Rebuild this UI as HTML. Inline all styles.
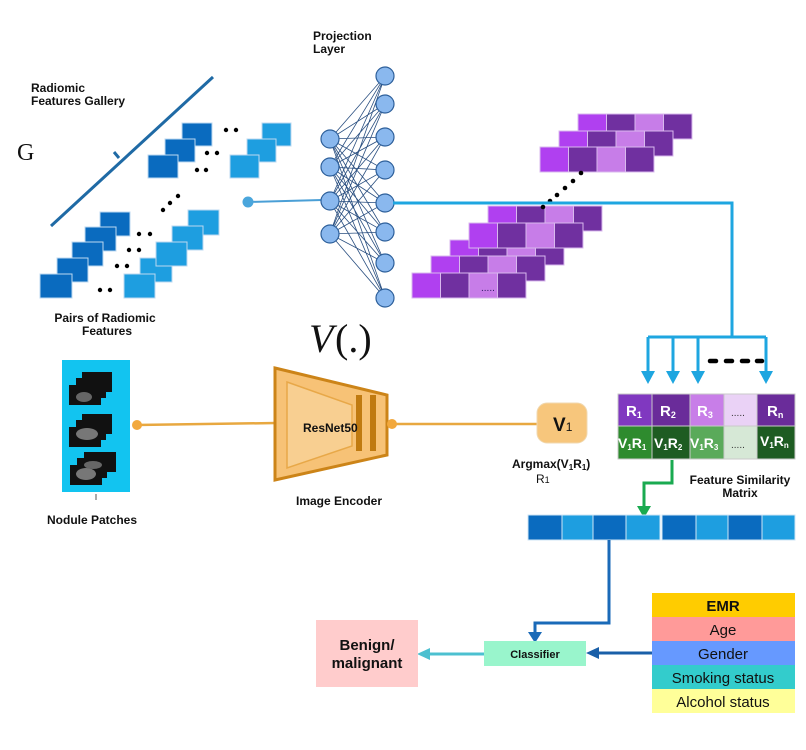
<!DOCTYPE html>
<html><head><meta charset="utf-8"><style>
html,body{margin:0;padding:0;background:#fff}
svg{display:block}
text{font-family:"Liberation Sans",Arial,sans-serif}
</style></head><body>
<svg width="806" height="750" viewBox="0 0 806 750" xmlns="http://www.w3.org/2000/svg">
<defs>
<marker id="ab" markerWidth="10" markerHeight="10" refX="5" refY="8" orient="auto" markerUnits="userSpaceOnUse"></marker>
</defs>
<rect width="806" height="750" fill="#fff"/>

<!-- Gallery -->
<text x="31" y="92" font-size="12" font-weight="bold" fill="#111">Radiomic</text>
<text x="31" y="105" font-size="12" font-weight="bold" fill="#111">Features Gallery</text>
<text x="17" y="160" font-size="24" font-family="Liberation Serif,serif" fill="#111" style="font-family:'Liberation Serif',serif">G</text>
<line x1="213" y1="77" x2="51" y2="226" stroke="#1f6aa5" stroke-width="3"/>
<line x1="114" y1="152" x2="119" y2="158" stroke="#1f6aa5" stroke-width="3"/>

<g stroke="#bcd8f0" stroke-width="1">
<rect x="182" y="123" width="30" height="23" fill="#0a6bbf"/>
<rect x="165" y="139" width="30" height="23" fill="#0a6bbf"/>
<rect x="148" y="155" width="30" height="23" fill="#0a6bbf"/>
<rect x="262" y="123" width="29" height="23" fill="#1e9ee0"/>
<rect x="247" y="139" width="29" height="23" fill="#1e9ee0"/>
<rect x="230" y="155" width="29" height="23" fill="#1e9ee0"/>
<rect x="100" y="212" width="30" height="24" fill="#0a6bbf"/>
<rect x="85" y="227" width="31" height="24" fill="#0a6bbf"/>
<rect x="72" y="242" width="31" height="24" fill="#0a6bbf"/>
<rect x="57" y="258" width="31" height="24" fill="#0a6bbf"/>
<rect x="40" y="274" width="32" height="24" fill="#0a6bbf"/>
<rect x="188" y="210" width="31" height="25" fill="#1e9ee0"/>
<rect x="172" y="226" width="31" height="24" fill="#1e9ee0"/>
<rect x="140" y="258" width="32" height="24" fill="#1e9ee0"/>
<rect x="156" y="242" width="31" height="24" fill="#1e9ee0"/>
<rect x="124" y="274" width="31" height="24" fill="#1e9ee0"/>
</g>
<g fill="#000">
<circle cx="226" cy="130" r="2.2"/><circle cx="236" cy="130" r="2.2"/>
<circle cx="207" cy="153" r="2.2"/><circle cx="217" cy="153" r="2.2"/>
<circle cx="197" cy="170" r="2.2"/><circle cx="206" cy="170" r="2.2"/>
<circle cx="163" cy="210" r="2.2"/><circle cx="170" cy="203" r="2.2"/><circle cx="178" cy="196" r="2.2"/>
<circle cx="139" cy="234" r="2.2"/><circle cx="150" cy="234" r="2.2"/>
<circle cx="129" cy="250" r="2.2"/><circle cx="139" cy="250" r="2.2"/>
<circle cx="117" cy="266" r="2.2"/><circle cx="127" cy="266" r="2.2"/>
<circle cx="100" cy="290" r="2.2"/><circle cx="110" cy="290" r="2.2"/>
</g>
<text x="105" y="322" font-size="12" font-weight="bold" text-anchor="middle" fill="#111">Pairs of Radiomic</text>
<text x="107" y="335" font-size="12" font-weight="bold" text-anchor="middle" fill="#111">Features</text>

<!-- Network -->
<text x="313" y="40" font-size="12" font-weight="bold" fill="#111">Projection</text>
<text x="313" y="53" font-size="12" font-weight="bold" fill="#111">Layer</text>
<g stroke="#2a4f80" stroke-width="0.8">
<path d="M330 139L385 76M330 139L385 104M330 139L385 137M330 139L385 170M330 139L385 203M330 139L385 232M330 139L385 263M330 139L385 298
M330 167L385 76M330 167L385 104M330 167L385 137M330 167L385 170M330 167L385 203M330 167L385 232M330 167L385 263M330 167L385 298
M330 201L385 76M330 201L385 104M330 201L385 137M330 201L385 170M330 201L385 203M330 201L385 232M330 201L385 263M330 201L385 298
M330 234L385 76M330 234L385 104M330 234L385 137M330 234L385 170M330 234L385 203M330 234L385 232M330 234L385 263M330 234L385 298"/>
</g>
<line x1="248" y1="202" x2="322" y2="200" stroke="#4a9fd6" stroke-width="2"/>
<circle cx="248" cy="202" r="5.5" fill="#4aa6dc"/>
<g fill="#8ab8ee" stroke="#2d5f9a" stroke-width="1.2">
<circle cx="330" cy="139" r="9"/><circle cx="330" cy="167" r="9"/><circle cx="330" cy="201" r="9"/><circle cx="330" cy="234" r="9"/>
<circle cx="385" cy="76" r="9"/><circle cx="385" cy="104" r="9"/><circle cx="385" cy="137" r="9"/><circle cx="385" cy="170" r="9"/><circle cx="385" cy="203" r="9"/><circle cx="385" cy="232" r="9"/><circle cx="385" cy="263" r="9"/><circle cx="385" cy="298" r="9"/>
</g>

<!-- Purple stacks -->
<g stroke="#d9b8ee" stroke-width="1">
<g id="r1"><rect x="578" y="114" width="28.5" height="25" fill="#b040f0"/><rect x="606.5" y="114" width="28.5" height="25" fill="#7030a0"/><rect x="635" y="114" width="28.5" height="25" fill="#c77de8"/><rect x="663.5" y="114" width="28.5" height="25" fill="#7030a0"/></g>
<g transform="translate(-19,17)"><rect x="578" y="114" width="28.5" height="25" fill="#b040f0"/><rect x="606.5" y="114" width="28.5" height="25" fill="#7030a0"/><rect x="635" y="114" width="28.5" height="25" fill="#c77de8"/><rect x="663.5" y="114" width="28.5" height="25" fill="#7030a0"/></g>
<g transform="translate(-38,33)"><rect x="578" y="114" width="28.5" height="25" fill="#b040f0"/><rect x="606.5" y="114" width="28.5" height="25" fill="#7030a0"/><rect x="635" y="114" width="28.5" height="25" fill="#c77de8"/><rect x="663.5" y="114" width="28.5" height="25" fill="#7030a0"/></g>
<g transform="translate(-90,92)"><rect x="578" y="114" width="28.5" height="25" fill="#b040f0"/><rect x="606.5" y="114" width="28.5" height="25" fill="#7030a0"/><rect x="635" y="114" width="28.5" height="25" fill="#c77de8"/><rect x="663.5" y="114" width="28.5" height="25" fill="#7030a0"/></g>
<g transform="translate(-128,126)"><rect x="578" y="114" width="28.5" height="25" fill="#b040f0"/><rect x="606.5" y="114" width="28.5" height="25" fill="#7030a0"/><rect x="635" y="114" width="28.5" height="25" fill="#c77de8"/><rect x="663.5" y="114" width="28.5" height="25" fill="#7030a0"/></g>
<g transform="translate(-109,109)"><rect x="578" y="114" width="28.5" height="25" fill="#b040f0"/><rect x="606.5" y="114" width="28.5" height="25" fill="#7030a0"/><rect x="635" y="114" width="28.5" height="25" fill="#c77de8"/><rect x="663.5" y="114" width="28.5" height="25" fill="#7030a0"/></g>
<g transform="translate(-147,142)"><rect x="578" y="114" width="28.5" height="25" fill="#b040f0"/><rect x="606.5" y="114" width="28.5" height="25" fill="#7030a0"/><rect x="635" y="114" width="28.5" height="25" fill="#c77de8"/><rect x="663.5" y="114" width="28.5" height="25" fill="#7030a0"/></g>
<g transform="translate(-166,159)"><rect x="578" y="114" width="28.5" height="25" fill="#b040f0"/><rect x="606.5" y="114" width="28.5" height="25" fill="#7030a0"/><rect x="635" y="114" width="28.5" height="25" fill="#c77de8"/><rect x="663.5" y="114" width="28.5" height="25" fill="#7030a0"/></g>
</g>
<text x="481" y="291" font-size="10" fill="#2a1a60">.....</text>
<g fill="#000">
<circle cx="581" cy="173" r="2.3"/><circle cx="573" cy="181" r="2.3"/><circle cx="565" cy="188" r="2.3"/><circle cx="557" cy="195" r="2.3"/><circle cx="550" cy="201" r="2.3"/><circle cx="543" cy="207" r="2.3"/>
</g>

<!-- Blue connector to matrix -->
<g stroke="#1ea6e0" stroke-width="3" fill="none">
<path d="M393 203H732V337"/>
<path d="M648 337H766"/>
<path d="M648 337V372M673 337V372M698 337V372M766 337V372"/>
</g>
<g fill="#1ea6e0">
<path d="M641 371h14l-7 13z"/><path d="M666 371h14l-7 13z"/><path d="M691 371h14l-7 13z"/><path d="M759 371h14l-7 13z"/>
</g>
<g stroke="#000" stroke-width="4.5" stroke-linecap="round">
<line x1="710" y1="361" x2="716" y2="361"/><line x1="726" y1="361" x2="732" y2="361"/><line x1="742" y1="361" x2="748" y2="361"/><line x1="757" y1="361" x2="762" y2="361"/>
</g>

<!-- Matrix -->
<g stroke="#c9c9c9" stroke-width="1">
<rect x="618" y="394" width="34" height="32" fill="#8038c0"/>
<rect x="652" y="394" width="38" height="32" fill="#6a2c9a"/>
<rect x="690" y="394" width="34" height="32" fill="#c87ee8"/>
<rect x="724" y="394" width="33" height="32" fill="#ead2f6"/>
<rect x="757" y="394" width="38" height="32" fill="#6a2c9a"/>
<rect x="618" y="426" width="34" height="33" fill="#2e8b2e"/>
<rect x="652" y="426" width="38" height="33" fill="#1e5c22"/>
<rect x="690" y="426" width="34" height="33" fill="#5aaa5a"/>
<rect x="724" y="426" width="33" height="33" fill="#d6e8d6"/>
<rect x="757" y="426" width="38" height="33" fill="#1e5c22"/>
</g>
<g fill="#fff" font-weight="bold" font-size="15">
<text x="626" y="416">R<tspan font-size="9" dy="2">1</tspan></text>
<text x="660" y="416">R<tspan font-size="9" dy="2">2</tspan></text>
<text x="697" y="416">R<tspan font-size="9" dy="2">3</tspan></text>
<text x="767" y="416">R<tspan font-size="9" dy="2">n</tspan></text>
<text x="618" y="448" font-size="14">V<tspan font-size="8" dy="2">1</tspan><tspan dy="-2">R</tspan><tspan font-size="8" dy="2">1</tspan></text>
<text x="654" y="448" font-size="14">V<tspan font-size="8" dy="2">1</tspan><tspan dy="-2">R</tspan><tspan font-size="8" dy="2">2</tspan></text>
<text x="690" y="448" font-size="14">V<tspan font-size="8" dy="2">1</tspan><tspan dy="-2">R</tspan><tspan font-size="8" dy="2">3</tspan></text>
<text x="760" y="446" font-size="14">V<tspan font-size="8" dy="2">1</tspan><tspan dy="-2">R</tspan><tspan font-size="8" dy="2">n</tspan></text>
</g>
<text x="731" y="416" font-size="10" fill="#333">.....</text>
<text x="731" y="448" font-size="10" fill="#333">.....</text>
<text x="740" y="484" font-size="12" font-weight="bold" text-anchor="middle" fill="#111">Feature Similarity</text>
<text x="740" y="497" font-size="12" font-weight="bold" text-anchor="middle" fill="#111">Matrix</text>

<!-- Green arrow -->
<path d="M672 460V483H644V508" stroke="#1aaa50" stroke-width="3" fill="none"/>
<path d="M637 506h14l-7 12z" fill="#1aaa50"/>

<!-- Feature bar -->
<g stroke="#cfe6f6" stroke-width="1">
<rect x="528" y="515" width="34" height="25" fill="#0a6bbf"/>
<rect x="562" y="515" width="31" height="25" fill="#1e9ee0"/>
<rect x="593" y="515" width="33" height="25" fill="#0a6bbf"/>
<rect x="626" y="515" width="34" height="25" fill="#1e9ee0"/>
<rect x="662" y="515" width="34" height="25" fill="#0a6bbf"/>
<rect x="696" y="515" width="32" height="25" fill="#1e9ee0"/>
<rect x="728" y="515" width="34" height="25" fill="#0a6bbf"/>
<rect x="762" y="515" width="33" height="25" fill="#1e9ee0"/>
</g>

<!-- down to classifier -->
<path d="M609 540V623H535V634" stroke="#1a6ab8" stroke-width="3" fill="none"/>
<path d="M528 632h14l-7 11z" fill="#1a6ab8"/>

<!-- Nodule patches -->
<rect x="62" y="360" width="68" height="132" fill="#12c4f0"/>
<g fill="#111">
<rect x="82" y="372" width="30" height="20"/><rect x="76" y="378" width="30" height="20"/><rect x="69" y="385" width="32" height="20"/>
<rect x="82" y="414" width="30" height="20"/><rect x="76" y="420" width="30" height="20"/><rect x="69" y="427" width="32" height="20"/>
<rect x="84" y="452" width="32" height="20"/><rect x="77" y="458" width="30" height="20"/><rect x="70" y="465" width="32" height="20"/>
</g>
<ellipse cx="84" cy="397" rx="8" ry="5" fill="#666"/>
<ellipse cx="87" cy="434" rx="11" ry="6" fill="#777"/>
<ellipse cx="86" cy="474" rx="10" ry="6" fill="#777"/>
<ellipse cx="93" cy="465" rx="9" ry="4" fill="#666"/>
<line x1="96" y1="494" x2="96" y2="500" stroke="#555" stroke-width="1"/>
<text x="47" y="524" font-size="12" font-weight="bold" fill="#111">Nodule Patches</text>

<!-- Encoder -->
<line x1="136" y1="425" x2="276" y2="423" stroke="#e8a840" stroke-width="2.5"/>
<circle cx="137" cy="425" r="5" fill="#f2a83c"/>
<path d="M275 368L387 395V455L275 480Z" fill="#f7c276" stroke="#cc8418" stroke-width="3"/>
<path d="M287 382L352 405V446L287 468Z" fill="#f8cf91" stroke="#e8a848" stroke-width="1.5"/>
<rect x="356" y="395" width="6" height="56" fill="#c07a10"/>
<rect x="370" y="395" width="6" height="56" fill="#c07a10"/>
<text x="303" y="432" font-size="12" font-weight="bold" fill="#111">ResNet50</text>
<text x="296" y="505" font-size="12" font-weight="bold" fill="#111">Image Encoder</text>
<line x1="392" y1="424" x2="538" y2="424" stroke="#e8a840" stroke-width="2.5"/>
<circle cx="392" cy="424" r="5" fill="#f2a83c"/>

<!-- V(.) -->
<text x="309" y="352" font-size="40" font-style="italic" fill="#111" style="font-family:'Liberation Serif',serif">V</text>
<text x="335" y="352" font-size="40" fill="#111" style="font-family:'Liberation Serif',serif">(.)</text>

<!-- V1 -->
<rect x="537" y="403" width="50" height="40" rx="10" fill="#f7c67c" stroke="#f0d8b0" stroke-width="1"/>
<text x="553" y="431" font-size="19" font-weight="bold" fill="#111">V<tspan font-size="12" font-weight="normal">1</tspan></text>
<text x="512" y="468" font-size="12" font-weight="bold" fill="#111">Argmax(V<tspan font-size="8" dy="2">1</tspan><tspan dy="-2">R</tspan><tspan font-size="8" dy="2">1</tspan><tspan dy="-2">)</tspan></text>
<text x="536" y="483" font-size="12" fill="#111">R<tspan font-size="9">1</tspan></text>

<!-- Classifier -->
<rect x="484" y="641" width="102" height="25" fill="#99f5cc"/>
<text x="535" y="658" font-size="11" font-weight="bold" text-anchor="middle" fill="#111">Classifier</text>
<line x1="484" y1="654" x2="428" y2="654" stroke="#4cc0d0" stroke-width="3"/>
<path d="M417 654l13 -6v12z" fill="#4cc0d0"/>
<rect x="316" y="620" width="102" height="67" fill="#ffcccc"/>
<text x="367" y="650" font-size="15" font-weight="bold" text-anchor="middle" fill="#111">Benign/</text>
<text x="367" y="668" font-size="15" font-weight="bold" text-anchor="middle" fill="#111">malignant</text>

<!-- EMR -->
<line x1="652" y1="653" x2="598" y2="653" stroke="#1a5fa8" stroke-width="3"/>
<path d="M586 653l13 -6v12z" fill="#1a5fa8"/>
<rect x="652" y="593" width="143" height="24" fill="#ffcc00"/>
<rect x="652" y="617" width="143" height="24" fill="#ff9a99"/>
<rect x="652" y="641" width="143" height="24" fill="#6699ff"/>
<rect x="652" y="665" width="143" height="24" fill="#33cccc"/>
<rect x="652" y="689" width="143" height="24" fill="#ffff99"/>
<g font-size="15" text-anchor="middle" fill="#111">
<text x="723" y="611" font-weight="bold">EMR</text>
<text x="723" y="635">Age</text>
<text x="723" y="659">Gender</text>
<text x="723" y="683">Smoking status</text>
<text x="723" y="707">Alcohol status</text>
</g>
</svg>
</body></html>
